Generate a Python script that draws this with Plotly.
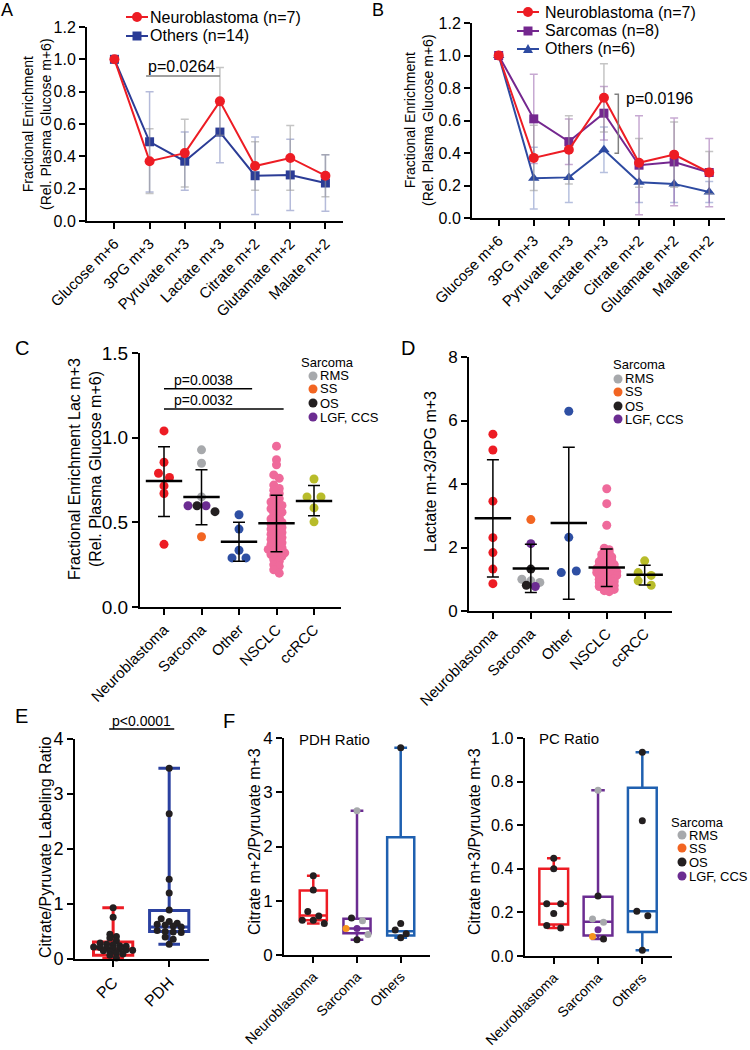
import numpy as np
import plotly.graph_objects as go

W, H = 750, 1050
FONT = "Liberation Sans, Arial, sans-serif"

RED = "#ed1c24"
BLUE_A = "#2b3c96"
PURPLE_B = "#74278f"
BLUE_B = "#2d4aa1"
GRAY = "#a7a9ac"
ORANGE = "#f26522"
ORANGE_F = "#f7941d"
BLACK = "#231f20"
PURPLE = "#6b2c91"
BLUE_C = "#2e4fa3"
PINK = "#ef6a9b"
OLIVE = "#b8bc2a"
BLUE_E = "#2b41a0"
BLUE_F = "#1f60b0"

SUBTYPES = ["RMS", "SS", "OS", "LGF, CCS"]
SUB_COLORS = {"RMS": GRAY, "SS": ORANGE, "OS": BLACK, "LGF, CCS": PURPLE}

# ---- A / B: enrichment along glycolysis and TCA (mean, SD)
METABOLITES = ["Glucose m+6", "3PG m+3", "Pyruvate m+3", "Lactate m+3",
               "Citrate m+2", "Glutamate m+2", "Malate m+2"]
NB_MEAN = [1.0, 0.37, 0.42, 0.74, 0.34, 0.39, 0.28]
NB_SD = [0.0, 0.20, 0.21, 0.21, 0.15, 0.20, 0.13]
A_OTH_MEAN = [1.0, 0.49, 0.37, 0.55, 0.28, 0.285, 0.235]
A_OTH_SD = [0.0, 0.31, 0.18, 0.19, 0.24, 0.22, 0.175]
B_SARC_MEAN = [1.0, 0.61, 0.47, 0.645, 0.325, 0.345, 0.28]
B_SARC_SD = [0.0, 0.275, 0.14, 0.165, 0.305, 0.27, 0.21]
B_OTH_MEAN = [1.0, 0.245, 0.25, 0.42, 0.22, 0.21, 0.16]
B_OTH_SD = [0.0, 0.19, 0.155, 0.14, 0.125, 0.115, 0.065]

# ---- C / D: per-tumour dot plots
GROUPS = ["Neuroblastoma", "Sarcoma", "Other", "NSCLC", "ccRCC"]
C_NB = [1.04, 0.855, 0.79, 0.765, 0.715, 0.67, 0.37]
C_SARC = [0.928, 0.849, 0.65, 0.598, 0.598, 0.598, 0.563, 0.415]
C_SARC_TYPE = ["RMS", "RMS", "RMS", "LGF, CCS", "OS", "LGF, CCS", "OS", "SS"]
C_OTHER = [0.545, 0.46, 0.335, 0.29, 0.29]
C_NSCLC = [0.95, 0.87, 0.84, 0.78, 0.76, 0.72, 0.70, 0.69, 0.67, 0.66, 0.64,
           0.62, 0.61, 0.60, 0.58, 0.57, 0.56, 0.55, 0.53, 0.52, 0.52, 0.50,
           0.49, 0.48, 0.47, 0.46, 0.45, 0.44, 0.43, 0.42, 0.41, 0.40, 0.39,
           0.38, 0.37, 0.36, 0.35, 0.34, 0.33, 0.33, 0.32, 0.31, 0.31, 0.30,
           0.28, 0.27, 0.25, 0.24, 0.22, 0.20]
C_CCRCC = [0.756, 0.65, 0.65, 0.585, 0.503]
C_MEAN = [0.744, 0.65, 0.385, 0.494, 0.626]
C_SD_HI = [0.946, 0.81, 0.50, 0.66, 0.717]
C_SD_LO = [0.535, 0.486, 0.27, 0.326, 0.539]

D_NB = [5.57, 5.07, 3.46, 2.31, 1.84, 1.32, 0.86]
D_SARC = [2.88, 2.12, 1.32, 1.0, 0.95, 0.9, 0.81, 0.77]
D_SARC_TYPE = ["SS", "LGF, CCS", "OS", "RMS", "RMS", "RMS", "OS", "LGF, CCS"]
D_OTHER = [6.29, 2.32, 1.21, 1.26]
D_NSCLC = [3.85, 3.38, 2.70, 1.98, 1.93, 1.88, 1.83, 1.78, 1.74, 1.70, 1.66,
           1.62, 1.59, 1.55, 1.52, 1.49, 1.46, 1.43, 1.41, 1.38, 1.36, 1.33,
           1.31, 1.28, 1.26, 1.24, 1.21, 1.19, 1.17, 1.14, 1.12, 1.10, 1.07,
           1.05, 1.02, 1.00, 0.97, 0.94, 0.92, 0.89, 0.86, 0.83, 0.80, 0.77,
           0.74, 0.71, 0.68, 0.64, 0.61]
D_CCRCC = [1.58, 1.21, 1.12, 0.95, 0.81]
D_MEAN = [2.92, 1.34, 2.77, 1.37, 1.14]
D_SD_HI = [4.76, 2.10, 5.16, 1.95, 1.44]
D_SD_LO = [1.07, 0.58, 0.37, 0.77, 0.82]

# ---- E: citrate / pyruvate labelling ratio (box = min..max)
E_GROUPS = ["PC", "PDH"]
E_PC = [0.93, 0.76, 0.45, 0.41, 0.38, 0.33, 0.29, 0.27, 0.26, 0.24, 0.23, 0.22,
        0.21, 0.20, 0.19, 0.18, 0.17, 0.16, 0.15, 0.13, 0.11, 0.09, 0.07, 0.02]
E_PDH = [3.47, 2.64, 1.45, 1.20, 0.89, 0.73, 0.68, 0.65, 0.63, 0.62, 0.60, 0.58,
         0.52, 0.50, 0.49, 0.48, 0.40, 0.36, 0.27]
E_Q1 = [0.07, 0.50]
E_MED = [0.18, 0.58]
E_Q3 = [0.31, 0.88]
E_LO = [0.01, 0.27]
E_HI = [0.93, 3.47]

# ---- F: PDH and PC ratio by tumour type
F_GROUPS = ["Neuroblastoma", "Sarcoma", "Others"]
F_PDH_NB = [1.46, 1.20, 0.80, 0.72, 0.64, 0.64, 0.58]
F_PDH_SARC = [2.66, 0.68, 0.63, 0.49, 0.49, 0.38, 0.28]
F_PDH_SARC_TYPE = ["RMS", "OS", "RMS", "SS", "LGF, CCS", "RMS", "OS"]
F_PDH_OTH = [3.82, 0.58, 0.46, 0.39, 0.32]
F_PDH_Q1 = [0.64, 0.40, 0.36]
F_PDH_MED = [0.73, 0.49, 0.44]
F_PDH_Q3 = [1.19, 0.67, 2.17]
F_PDH_LO = [0.58, 0.28, 0.32]
F_PDH_HI = [1.46, 2.66, 3.82]

F_PC_NB = [0.448, 0.40, 0.24, 0.24, 0.195, 0.14, 0.128]
F_PC_SARC = [0.76, 0.275, 0.17, 0.155, 0.12, 0.09, 0.078]
F_PC_SARC_TYPE = ["RMS", "OS", "RMS", "RMS", "LGF, CCS", "SS", "OS"]
F_PC_OTH = [0.935, 0.62, 0.205, 0.185, 0.026]
F_PC_Q1 = [0.145, 0.094, 0.11]
F_PC_MED = [0.24, 0.157, 0.205]
F_PC_Q3 = [0.40, 0.272, 0.772]
F_PC_LO = [0.128, 0.078, 0.026]
F_PC_HI = [0.448, 0.76, 0.935]

# panel geometry in page pixels
PANELS = {
    1: dict(xd=(87, 343), yd=(27, 221), xr=(-0.78, 6.5), yr=(0, 1.2), dtick=0.2, fmt=".1f", yfs=16, xfs=15, labels=METABOLITES),
    2: dict(xd=(472, 725), yd=(23, 218), xr=(-0.76, 6.45), yr=(0, 1.2), dtick=0.2, fmt=".1f", yfs=16, xfs=15, labels=METABOLITES),
    3: dict(xd=(140, 341), yd=(353, 607), xr=(-0.64, 4.72), yr=(0, 1.5), dtick=0.5, fmt=".1f", yfs=19, xfs=15, labels=GROUPS),
    4: dict(xd=(469, 672), yd=(357, 611), xr=(-0.63, 4.72), yr=(0, 8), dtick=2, fmt="d", yfs=17, xfs=15, labels=GROUPS),
    5: dict(xd=(75, 209), yd=(739, 959), xr=(-0.68, 1.71), yr=(0, 4), dtick=1, fmt="d", yfs=18, xfs=16, labels=E_GROUPS),
    6: dict(xd=(284, 430), yd=(738, 955), xr=(-0.67, 2.67), yr=(0, 4), dtick=1, fmt="d", yfs=17, xfs=14, labels=F_GROUPS),
    7: dict(xd=(524.5, 672), yd=(738, 956), xr=(-0.66, 2.67), yr=(0, 1), dtick=0.2, fmt=".1f", yfs=16, xfs=14, labels=F_GROUPS),
}


def ref(n):
    return ("x", "y") if n == 1 else (f"x{n}", f"y{n}")


def scales(n):
    p = PANELS[n]
    xs = (p["xd"][1] - p["xd"][0]) / (p["xr"][1] - p["xr"][0])
    ys = (p["yd"][1] - p["yd"][0]) / (p["yr"][1] - p["yr"][0])
    return xs, ys


def spread(vals, n, row_px, dx_px):
    """GraphPad-like scatter: group close values into rows, centre each row."""
    xs, ys = scales(n)
    v = np.asarray(vals, float)
    order = np.argsort(-v, kind="stable")
    rows, cur, top = [], [], None
    for i in order:
        if cur and (top - v[i]) * ys >= row_px:
            rows.append(cur)
            cur = []
        if not cur:
            top = v[i]
        cur.append(i)
    rows.append(cur)
    off = np.zeros(len(v))
    for r in rows:
        r = sorted(r)
        k = len(r)
        for j, i in enumerate(r):
            off[i] = (j - (k - 1) / 2) * dx_px / xs
    return off


fig = go.Figure()


def dots(n, pos, vals, colors, size, row_px, dx_px):
    off = spread(vals, n, row_px, dx_px)
    xr, yr = ref(n)
    fig.add_trace(go.Scatter(
        x=pos + off, y=vals, mode="markers", xaxis=xr, yaxis=yr, cliponaxis=False,
        marker=dict(size=size, color=colors, line=dict(width=0)), hoverinfo="skip"))


def mean_sd(n, mean, hi, lo):
    xr, yr = ref(n)
    fig.add_trace(go.Scatter(
        x=list(range(len(mean))), y=mean, mode="markers", xaxis=xr, yaxis=yr, cliponaxis=False,
        marker=dict(symbol="line-ew", size=26, color="black", line=dict(color="black", width=2.5)),
        error_y=dict(type="data", symmetric=False,
                     array=[h - m for h, m in zip(hi, mean)],
                     arrayminus=[m - l for m, l in zip(mean, lo)],
                     color="black", thickness=1.5, width=6),
        hoverinfo="skip"))


def box(n, x, q1, med, q3, lo, hi, color, width, lw, ww):
    xr, yr = ref(n)
    fig.add_trace(go.Box(
        x=[x], q1=[q1], median=[med], q3=[q3], lowerfence=[lo], upperfence=[hi],
        width=width, whiskerwidth=ww, boxpoints=False, fillcolor="rgba(0,0,0,0)",
        line=dict(color=color, width=lw), xaxis=xr, yaxis=yr, hoverinfo="skip"))


def series(n, mean, sd, color, symbol, err_color, size=10):
    xr, yr = ref(n)
    fig.add_trace(go.Scatter(
        x=list(range(len(mean))), y=mean, mode="lines+markers", xaxis=xr, yaxis=yr,
        line=dict(color=color, width=2), cliponaxis=False,
        marker=dict(symbol=symbol, size=size, color=color),
        error_y=dict(type="data", array=sd, color=err_color, thickness=1.5, width=4),
        hoverinfo="skip"))


# A
series(1, A_OTH_MEAN, A_OTH_SD, BLUE_A, "square", "rgba(43,60,150,0.35)", 9)
series(1, NB_MEAN, NB_SD, RED, "circle", "rgba(150,150,150,0.55)")
# B
series(2, B_OTH_MEAN, B_OTH_SD, BLUE_B, "triangle-up", "rgba(45,74,161,0.35)", 10)
series(2, B_SARC_MEAN, B_SARC_SD, PURPLE_B, "square", "rgba(116,39,143,0.4)", 9)
series(2, NB_MEAN, NB_SD, RED, "circle", "rgba(150,150,150,0.55)")

# C
dots(3, 0, C_NB, RED, 9, 6, 11)
dots(3, 1, C_SARC, [SUB_COLORS[t] for t in C_SARC_TYPE], 9, 6, 9)
dots(3, 2, C_OTHER, BLUE_C, 9, 6, 14)
dots(3, 3, C_NSCLC, PINK, 9, 5, 5.5)
dots(3, 4, C_CCRCC, OLIVE, 9, 6, 14)
mean_sd(3, C_MEAN, C_SD_HI, C_SD_LO)

# D
dots(4, 0, D_NB, RED, 9, 6, 11)
dots(4, 1, D_SARC, [SUB_COLORS[t] for t in D_SARC_TYPE], 9, 4, 9)
dots(4, 2, D_OTHER, BLUE_C, 9, 6, 15)
dots(4, 3, D_NSCLC, PINK, 9, 3, 5)
dots(4, 4, D_CCRCC, OLIVE, 9, 5, 13)
mean_sd(4, D_MEAN, D_SD_HI, D_SD_LO)

# E
for i, col in enumerate([RED, BLUE_E]):
    box(5, i, E_Q1[i], E_MED[i], E_Q3[i], E_LO[i], E_HI[i], col, 0.7, 3, 0.55)
dots(5, 0, E_PC, BLACK, 7, 3.5, 6.5)
dots(5, 1, E_PDH, BLACK, 7, 5, 8)

# F
F_COLS = [RED, PURPLE, BLUE_F]
F_SUB = dict(SUB_COLORS, SS=ORANGE_F)
for i, col in enumerate(F_COLS):
    box(6, i, F_PDH_Q1[i], F_PDH_MED[i], F_PDH_Q3[i], F_PDH_LO[i], F_PDH_HI[i], col, 0.62, 2.5, 0.47)
    box(7, i, F_PC_Q1[i], F_PC_MED[i], F_PC_Q3[i], F_PC_LO[i], F_PC_HI[i], col, 0.65, 2.5, 0.47)
dots(6, 0, F_PDH_NB, BLACK, 7, 6, 11)
dots(6, 1, F_PDH_SARC, [F_SUB[t] for t in F_PDH_SARC_TYPE], 7, 6, 11)
dots(6, 2, F_PDH_OTH, BLACK, 7, 6, 11)
dots(7, 0, F_PC_NB, BLACK, 7, 6, 14)
dots(7, 1, F_PC_SARC, [F_SUB[t] for t in F_PC_SARC_TYPE], 7, 6, 11)
dots(7, 2, F_PC_OTH, BLACK, 7, 6, 11)

# ---- axes
AX = dict(showline=True, linecolor="black", linewidth=2, ticks="outside", ticklen=6,
          tickwidth=2, tickcolor="black", showgrid=False, zeroline=False,
          fixedrange=True, automargin=False)
layout = {}
for n, p in PANELS.items():
    xr, yr = ref(n)
    xk = "xaxis" if n == 1 else f"xaxis{n}"
    yk = "yaxis" if n == 1 else f"yaxis{n}"
    layout[xk] = dict(AX, domain=[p["xd"][0] / W, p["xd"][1] / W], range=list(p["xr"]),
                      anchor=yr, tickmode="array", tickvals=list(range(len(p["labels"]))),
                      ticktext=p["labels"], tickangle=-45, tickfont=dict(size=p["xfs"]))
    layout[yk] = dict(AX, domain=[1 - p["yd"][1] / H, 1 - p["yd"][0] / H], range=list(p["yr"]),
                      anchor=xr, tick0=0, dtick=p["dtick"], tickformat=p["fmt"],
                      tickfont=dict(size=p["yfs"]))

ann = []
shapes = []


def text(x, y, s, size, xanchor="left", angle=0, xref="paper", yref="paper"):
    if xref == "paper":
        x = x / W
    if yref == "paper":
        y = 1 - y / H
    ann.append(dict(x=x, y=y, xref=xref, yref=yref, text=s, showarrow=False,
                    xanchor=xanchor, yanchor="middle", textangle=angle, borderpad=0,
                    font=dict(size=size, color="black")))


def key(cx, cy, color, kind, r=4.5, line=False):
    if line:
        shapes.append(dict(type="line", xref="paper", yref="paper", x0=(cx - 11) / W, x1=(cx + 11) / W,
                           y0=1 - cy / H, y1=1 - cy / H, line=dict(color=color, width=2)))
    common = dict(xref="paper", yref="paper", xsizemode="pixel", ysizemode="pixel",
                  xanchor=cx / W, yanchor=1 - cy / H, fillcolor=color, line=dict(width=0))
    if kind == "circle":
        shapes.append(dict(type="circle", x0=-r, x1=r, y0=-r, y1=r, **common))
    elif kind == "square":
        shapes.append(dict(type="rect", x0=-r, x1=r, y0=-r, y1=r, **common))
    else:
        shapes.append(dict(type="path", path=f"M {-r},{-0.8 * r} L {r},{-0.8 * r} L 0,{r} Z", **common))


# panel letters
for s, x, y, size in [("A", 7, 10, 18), ("B", 378, 10, 18), ("C", 22, 348, 20),
                      ("D", 408, 348, 20), ("E", 21, 716, 20), ("F", 229, 721, 20)]:
    text(x, y, s, size, xanchor="center")

# y-axis titles
text(37, 124, "Fractional Enrichment<br>(Rel. Plasma Glucose m+6)", 14, "center", -90)
text(419, 120, "Fractional Enrichment<br>(Rel. Plasma Glucose m+6)", 14, "center", -90)
text(85, 469, "Fractional Enrichment Lac m+3<br>(Rel. Plasma Glucose m+6)", 16, "center", -90)
text(430, 472, "Lactate m+3/3PG m+3", 16, "center", -90)
text(45, 847, "Citrate/Pyruvate Labeling Ratio", 16, "center", -90)
text(254, 842, "Citrate m+2/Pyruvate m+3", 16, "center", -90)
text(474, 842, "Citrate m+3/Pyruvate m+3", 16, "center", -90)
text(298, 739, "PDH Ratio", 15)
text(538, 738, "PC Ratio", 15)

# A / B legends
key(137, 17, RED, "circle", 5, True)
text(149, 17, "Neuroblastoma (n=7)", 16)
key(137, 36, BLUE_A, "square", 4.5, True)
text(149, 36, "Others (n=14)", 16)
for y, col, kind, label in [(12, RED, "circle", "Neuroblastoma (n=7)"),
                            (31, PURPLE_B, "square", "Sarcomas (n=8)"),
                            (49, BLUE_B, "triangle", "Others (n=6)")]:
    key(528, y, col, kind, 5 if kind != "square" else 4.5, True)
    text(544, y, label, 16)

# sarcoma sub-type legends (C, D, F)
for tx, cx, ty, rows, fs in [(300, 313, 362, (376, 389, 403, 417), 13),
                             (612, 618, 364, (379, 392, 406, 419), 13),
                             (670, 682, 822, (835, 848, 862, 876), 13)]:
    text(tx, ty, "Sarcoma", fs)
    for y, name in zip(rows, SUBTYPES):
        key(cx, y, SUB_COLORS[name], "circle", 4.5)
        text(cx + 5.5, y, name, fs)

# significance marks
shapes.append(dict(type="line", xref="x", yref="y", x0=0.9, x1=3.0, y0=0.897, y1=0.897,
                   line=dict(color="#808080", width=1.5)))
text(1.9, 0.955, "p=0.0264", 16, "center", xref="x", yref="y")
shapes.append(dict(type="path", xref="x2", yref="y2",
                   path="M 3.3,0.762 L 3.41,0.762 L 3.41,0.398 L 3.3,0.398",
                   line=dict(color="#808080", width=1.5)))
text(3.6, 0.738, "p=0.0196", 16, xref="x2", yref="y2")
for x1, y, label, ty in [(2.35, 1.289, "p=0.0038", 1.34), (3.19, 1.17, "p=0.0032", 1.22)]:
    shapes.append(dict(type="line", xref="x3", yref="y3", x0=0, x1=x1, y0=y, y1=y,
                       line=dict(color="black", width=1.5)))
    text(1.05, ty, label, 14, "center", xref="x3", yref="y3")
shapes.append(dict(type="line", xref="x5", yref="paper", x0=-0.07, x1=1.09,
                   y0=1 - 729 / H, y1=1 - 729 / H, line=dict(color="black", width=1.5)))
text(141, 721, "p<0.0001", 14, "center")

fig.update_layout(
    width=W, height=H, margin=dict(l=0, r=0, t=0, b=0),
    paper_bgcolor="white", plot_bgcolor="rgba(0,0,0,0)", showlegend=False,
    font=dict(family=FONT, color="black"), annotations=ann, shapes=shapes, **layout)

# page body margin would otherwise push the fixed-size figure 8px right/down
fig.write_html("out.html", config={"displayModeBar": False},
               post_script="document.body.style.margin='0';")
